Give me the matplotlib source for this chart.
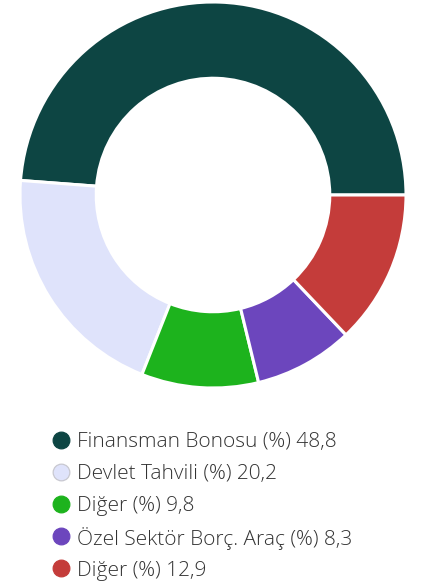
import matplotlib
matplotlib.use("Agg")
import matplotlib.pyplot as plt

# Portföy dağılımı
categories = ["Finansman Bonosu", "Devlet Tahvili", "Diğer", "Özel Sektör Borç. Araç", "Diğer"]
values = [48.8, 20.2, 9.8, 8.3, 12.9]
colors = ["#0d4543", "#dfe3fb", "#1db31d", "#6c46bd", "#c43c3a"]

plt.rcParams['font.family'] = ['Open Sans', 'DejaVu Sans']

W, H = 422, 584
fig = plt.figure(figsize=(W / 100, H / 100), dpi=100)

# donut: merkez (213, 195) px, dış yarıçap 193 px
cx, cy, r = 213, 195, 193
ax = fig.add_axes([(cx - r) / W, (H - cy - r) / H, 2 * r / W, 2 * r / H])
ax.pie(values, colors=colors, startangle=0, counterclock=True, radius=1,
       wedgeprops=dict(width=0.395, edgecolor="white", linewidth=2.2))
ax.set_xlim(-1, 1)
ax.set_ylim(-1, 1)
ax.set_aspect("equal")
ax.axis("off")

# lejant: piksel koordinatlı ayrı bir eksen
lax = fig.add_axes([0, 0, 1, 1])
lax.set_xlim(0, W)
lax.set_ylim(H, 0)
lax.axis("off")
labels = [f"{c} (%) {str(v).replace('.', ',')}" for c, v in zip(categories, values)]
for i, (lab, col) in enumerate(zip(labels, colors)):
    y = 439.5 + 32.2 * i
    edge = "#c8c8d0" if col == "#dfe3fb" else col
    lax.plot(61, y, marker="o", markersize=12, markerfacecolor=col,
             markeredgecolor=edge, markeredgewidth=0.9, linestyle="none")
    lax.text(77, y, lab, fontsize=15, fontweight="light", color="#333333",
             va="center_baseline", ha="left")

fig.savefig("out.png", dpi=100)
